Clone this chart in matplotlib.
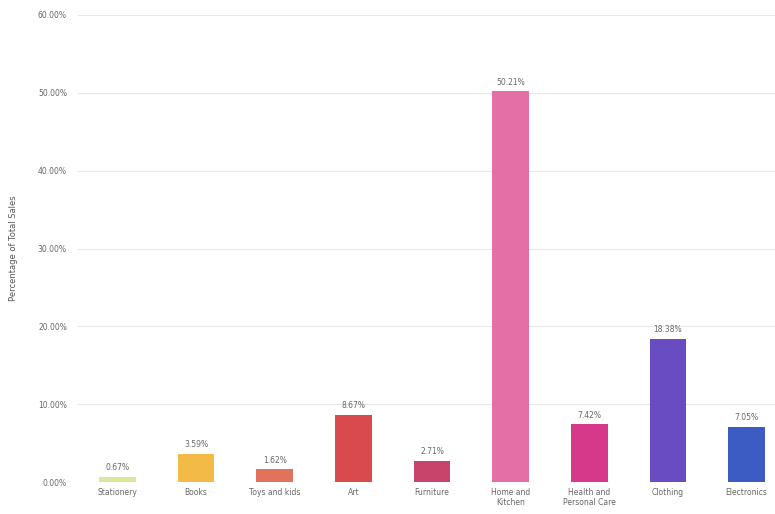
import matplotlib.pyplot as plt
from matplotlib.ticker import FuncFormatter

# Datos del grafico
categorias = ["Stationery", "Books", "Toys and kids", "Art", "Furniture",
              "Home and\nKitchen", "Health and\nPersonal Care", "Clothing", "Electronics"]
porcentajes = [0.67, 3.59, 1.62, 8.67, 2.71, 50.21, 7.42, 18.38, 7.05]
colores = ["#dfe69a", "#f2bb45", "#e1735c", "#d84a4c", "#c9446a",
           "#e46fa6", "#d6388a", "#6a4cc2", "#3c5cc4"]
ticks_y = [0, 10, 20, 30, 40, 50, 60]

fig = plt.figure(figsize=(7.75, 5.14), dpi=100)
ax = fig.add_axes([78 / 775, 32 / 514, 697 / 775, 467 / 514])

x = range(len(categorias))
ax.bar(x, porcentajes, width=0.47, color=colores, zorder=3)

for i, v in enumerate(porcentajes):
    ax.text(i, v + 0.6, f"{v:.2f}%", ha="center", va="bottom",
            fontsize=5.5, color="#666666")

ax.set_xlim(-0.5, 8.36)
ax.set_ylim(0, 60)
ax.set_yticks(ticks_y)
ax.yaxis.set_major_formatter(FuncFormatter(lambda v, p: f"{v:.2f}%"))
ax.set_xticks(list(x))
ax.set_xticklabels(categorias, fontsize=5.5, color="#666666")
ax.tick_params(axis="y", labelsize=5.5, labelcolor="#666666", length=0, pad=8)
ax.tick_params(axis="x", length=0, pad=4)
ax.grid(axis="y", color="#e8e8e8", linewidth=0.8, zorder=0)
for s in ax.spines.values():
    s.set_visible(False)

ax.set_ylabel("Percentage of Total Sales", fontsize=6, color="#555555", labelpad=14)

plt.savefig("out.png", dpi=100)
